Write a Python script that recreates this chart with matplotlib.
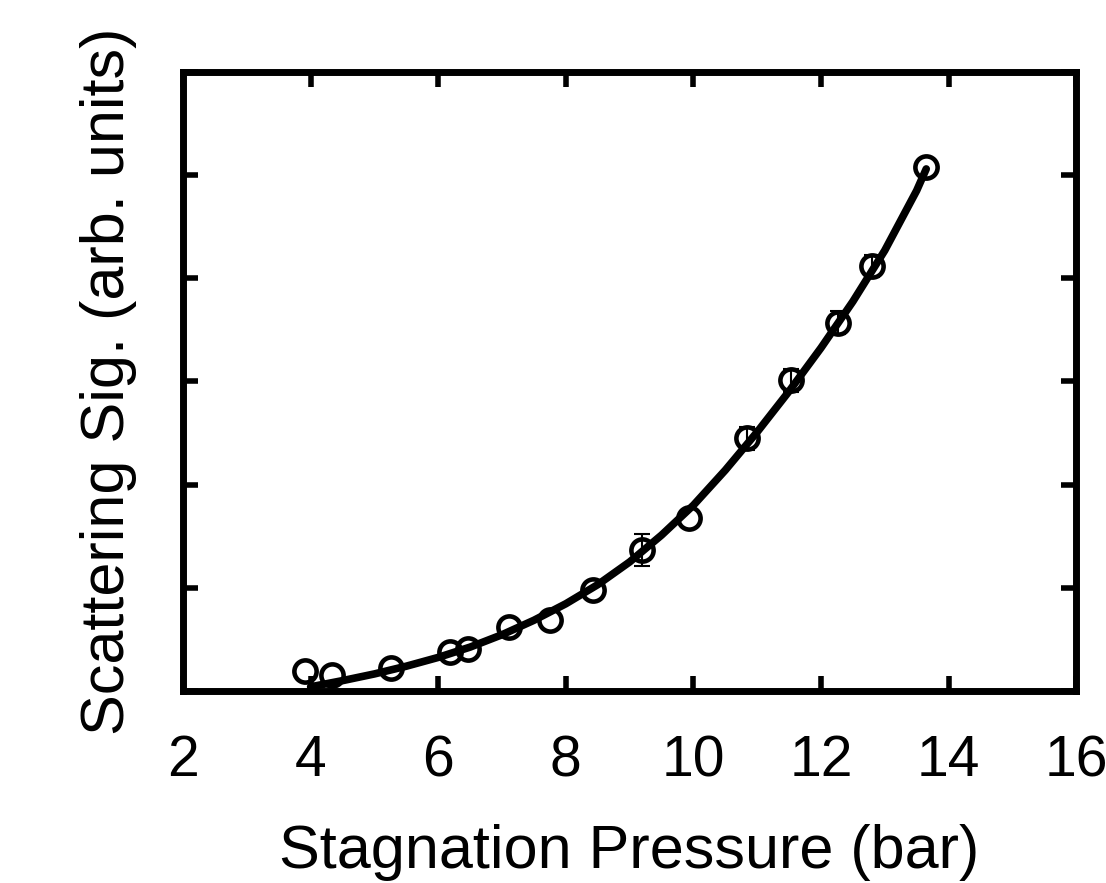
import matplotlib
matplotlib.use("Agg")
import matplotlib.pyplot as plt

# measured points: stagnation pressure (bar) vs scattering signal (arb. units)
pressure = [3.91, 4.34, 5.26, 6.18, 6.47, 7.11, 7.75, 8.43, 9.19, 9.93,
            10.84, 11.53, 12.27, 12.80, 13.65]
signal = [0.19, 0.15, 0.22, 0.38, 0.41, 0.62, 0.69, 0.98, 1.37, 1.68,
          2.45, 3.01, 3.57, 4.12, 5.08]
# most error bars are hidden by the markers in the original (0 = not visible)
signal_err = [0.0, 0.0, 0.0, 0.0, 0.0, 0.0, 0.0, 0.0, 0.155, 0.0,
              0.11, 0.11, 0.11, 0.11, 0.0]

# fitted curve
fit_p = [4.0, 4.5, 5.0, 5.5, 6.0, 6.5, 7.0, 7.5, 8.0, 8.5, 9.0, 9.5,
         10.0, 10.5, 11.0, 11.5, 12.0, 12.5, 13.0, 13.5, 13.65]
fit_s = [0.04, 0.10, 0.165, 0.24, 0.325, 0.425, 0.545, 0.685, 0.845, 1.03, 1.25, 1.51,
         1.80, 2.14, 2.51, 2.905, 3.325, 3.775, 4.27, 4.85, 5.06]

x_ticks = [2, 4, 6, 8, 10, 12, 14, 16]
y_ticks = [0, 1, 2, 3, 4, 5, 6]

plt.rcParams["font.family"] = ["Liberation Sans", "DejaVu Sans"]

fig = plt.figure(figsize=(11.06, 8.83), dpi=100)
ax = fig.add_axes([0.1655, 0.2175, 0.8075, 0.701])

ax.plot(fit_p, fit_s, color="black", linewidth=5.5, solid_capstyle="round",
        solid_joinstyle="round", zorder=3)
ax.plot(pressure, signal, "o", markersize=16, markerfacecolor="none",
        markeredgecolor="black", markeredgewidth=3.3, zorder=4)

# only the error bars that stick out of the markers
err_idx = [i for i, e in enumerate(signal_err) if e > 0]
ax.errorbar([pressure[i] for i in err_idx], [signal[i] for i in err_idx],
            yerr=[signal_err[i] for i in err_idx], fmt="none",
            ecolor="black", elinewidth=1.5, capsize=6, capthick=1.5, zorder=4)

ax.set_xlim(2, 16)
ax.set_ylim(0, 6)
ax.set_xticks(x_ticks)
ax.set_yticks(y_ticks)
ax.set_yticklabels([])
ax.tick_params(direction="in", length=11, width=4, top=True, right=True,
               labelsize=41, pad=31)
for s in ax.spines.values():
    s.set_linewidth(5)

ax.set_xlabel("Stagnation Pressure (bar)", fontsize=44, labelpad=26)
ax.set_ylabel("Scattering Sig. (arb. units)", fontsize=44, labelpad=2)

fig.savefig("out.png", dpi=100)
